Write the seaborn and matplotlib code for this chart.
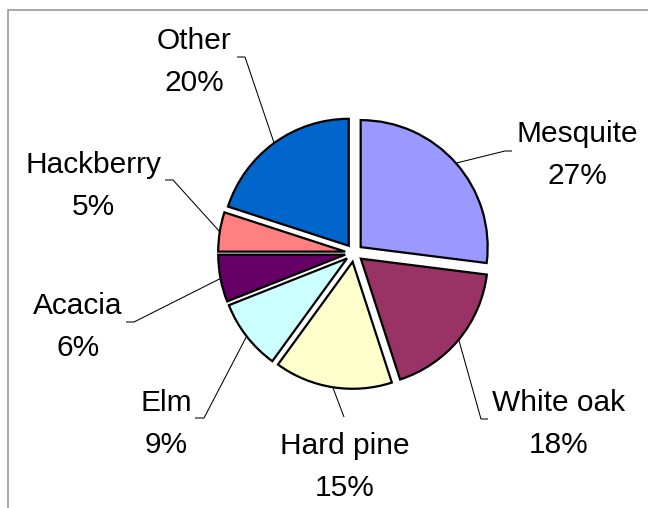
import matplotlib
matplotlib.use("Agg")
import matplotlib.pyplot as plt
from matplotlib.patches import Rectangle
import numpy as np
import seaborn as sns

# Wood species share
species = ["Mesquite", "White oak", "Hard pine", "Elm", "Acacia", "Hackberry", "Other"]
shares = [27, 18, 15, 9, 6, 5, 20]
colors = ["#9999FF", "#993366", "#FFFFCC", "#CCFFFF", "#660066", "#FF8080", "#0066CC"]

sns.set_theme(style="white")
plt.rcParams["font.family"] = ["Liberation Sans", "DejaVu Sans"]

W, H = 648, 508
DPI = 100

# pie geometry on the canvas (pixels): centre and radius
CX, CY = 354, 253
R = 127
EXPLODE = 0.07

# label block centres and leader-line ends next to the labels (pixels)
label_xy = [(577, 155), (559, 424), (345, 467), (166, 424), (78, 327), (93, 186), (194, 62)]
leader_elbow = [(505, 151), (481, 419), (344, 417), (204, 418), (134, 322), (173, 180), (245, 57)]
leader_tail = [(512, 151), (488, 419), None, (195, 418), (126, 322), (165, 180), (237, 57)]


def to_data(px, py):
    return (px - CX) / R, (CY - py) / R


fig = plt.figure(figsize=(W / DPI, H / DPI), dpi=DPI)
ax = fig.add_axes([0, 0, 1, 1])

palette = sns.color_palette(colors)
ax.pie(
    shares,
    colors=palette,
    startangle=90,
    counterclock=False,
    explode=[EXPLODE] * len(shares),
    radius=1,
    wedgeprops=dict(edgecolor="black", linewidth=1.6),
)
ax.set_aspect("auto")
ax.set_xlim((0 - CX) / R, (W - CX) / R)
ax.set_ylim((CY - H) / R, CY / R)
ax.axis("off")

# labels and leader lines
total = float(sum(shares))
cum = 0.0
for name, val, lxy, elb, tl in zip(species, shares, label_xy, leader_elbow, leader_tail):
    mid = np.deg2rad(90 - 360 * (cum + val / 2) / total)
    cum += val
    r = 1 + EXPLODE
    ax_pt = (r * np.cos(mid), r * np.sin(mid))
    pts = [ax_pt, to_data(*elb)]
    if tl is not None:
        pts.append(to_data(*tl))
    xs, ys = zip(*pts)
    ax.plot(xs, ys, color="black", lw=0.75, solid_capstyle="butt")
    tx, ty = to_data(*lxy)
    ax.text(tx, ty, f"{name}\n{val}%", ha="center", va="center",
            fontsize=21.5, color="black", linespacing=1.6)

# chart-area border
fig.patches.append(Rectangle((8 / W, -0.05), 1.2, 1.05 - 10 / H,
                             transform=fig.transFigure, fill=False,
                             edgecolor="#9a9a9a", lw=1.2, clip_on=False))

fig.savefig("out.png", dpi=DPI, facecolor="white")
